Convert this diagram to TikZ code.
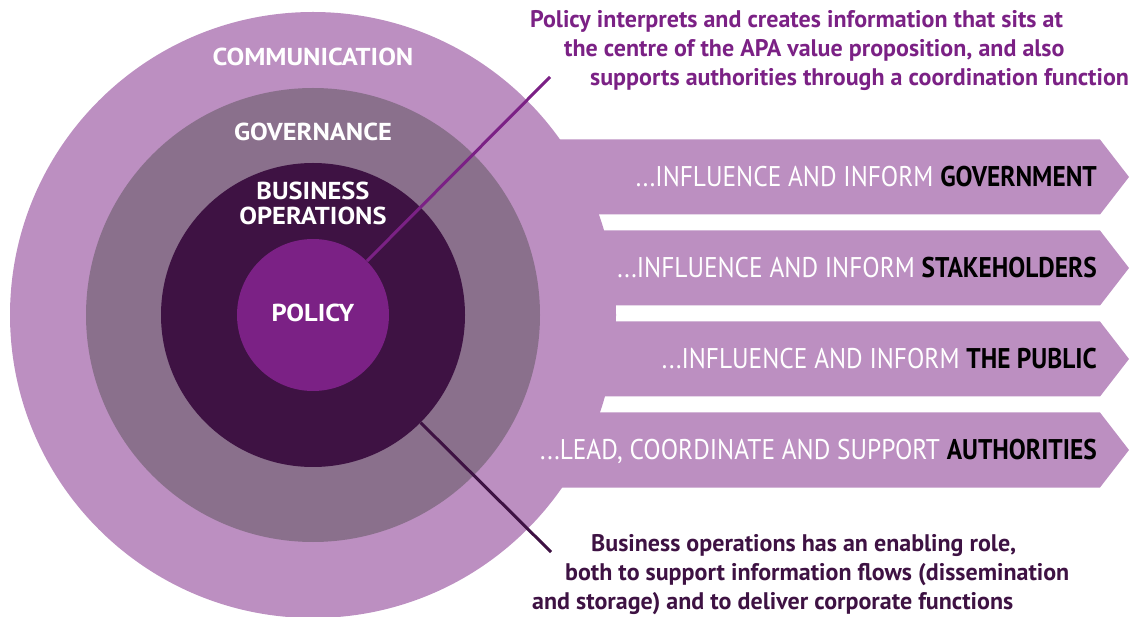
\documentclass[tikz,border=0pt]{standalone}
\usepackage{fontspec}
\setmainfont{PT Sans}
\newfontfamily\narrowfont[FakeStretch=0.89]{PT Sans}
\newfontfamily\wideface[FakeStretch=1.08]{PT Sans}
\usepackage{tikz}
\usetikzlibrary{positioning}
\definecolor{commpurple}{HTML}{BC8FC1}
\definecolor{govmauve}{HTML}{8A708C}
\definecolor{opsplum}{HTML}{3E1243}
\definecolor{policypurple}{HTML}{7B2185}
\newcommand{\bannerdots}{...}

\tikzset{
  ring/.style={circle,inner sep=0,minimum size=#1},
  ringlabel/.style={text=white,font=\wideface\bfseries\fontsize{24.5}{26}\selectfont,
      inner sep=0,anchor=base},
  bannertext/.style={text=white,font=\narrowfont\fontsize{28.5}{30}\selectfont,
      inner sep=0,anchor=base east},
  notetext/.style={font=\bfseries\fontsize{24}{26}\selectfont,
      inner sep=0,anchor=base west},
  leader/.style={line width=3pt}
}

\begin{document}
\begin{tikzpicture}[x=1pt,y=-1pt]
    \useasboundingbox (0,0) rectangle (1141,617);

    % Outer ring, the banners come out of it in the same colour
    \node[ring=606pt,fill=commpurple] (comm) at (313,315) {};
    \foreach \y/\lead/\who in {177/\bannerdots INFLUENCE AND INFORM/GOVERNMENT,
        268/\bannerdots INFLUENCE AND INFORM/STAKEHOLDERS,
        359/\bannerdots INFLUENCE AND INFORM/THE PUBLIC,
        450/{\bannerdots LEAD, COORDINATE AND SUPPORT}/AUTHORITIES}{
      \fill[commpurple] (450,\y-37.5) -- (1100,\y-37.5) -- (1129,\y)
          -- (1100,\y+37.5) -- (450,\y+37.5) -- cycle;
      \node[bannertext] (banner\y) at (1097,\y+10)
          {\lead{} \textcolor{black}{\bfseries\who}};
    }

    % Inner rings
    \node[ring=454pt,fill=govmauve] (gov) at (comm.center) {};
    \node[ring=304pt,fill=opsplum] (ops) at (comm.center) {};
    \node[ring=152pt,fill=policypurple] (policy) at (comm.center) {};

    % Ring names
    \node[ringlabel] (commlabel) at (313,66) {COMMUNICATION};
    \node[ringlabel] (govlabel) at (313,141) {GOVERNANCE};
    \node[ringlabel] (opslabel) at (313,200) {BUSINESS};
    \node[ringlabel] (opslabelb) at (313,225) {OPERATIONS};
    \node[ringlabel] (policylabel) at (313,322) {POLICY};

    % Leaders out to the notes
    \coordinate (topend) at (550,77);
    \coordinate (bottomend) at (551,552);
    \draw[leader,policypurple] (policy.45) -- (topend);
    \draw[leader,opsplum] (ops.-45) -- (bottomend);

    \node[notetext,text=policypurple] (policynote) at (530,28)
        {Policy interprets and creates information that sits at};
    \node[notetext,text=policypurple] (policynoteb) at (564,57)
        {the centre of the APA value proposition, and also};
    \node[notetext,text=policypurple] (policynotec) at (590,86)
        {supports authorities through a coordination function};

    \node[notetext,text=opsplum] (opsnote) at (591,551)
        {Business operations has an enabling role,};
    \node[notetext,text=opsplum] (opsnoteb) at (565,580)
        {both to support information flows (dissemination};
    \node[notetext,text=opsplum] (opsnotec) at (532,609)
        {and storage) and to deliver corporate functions};
\end{tikzpicture}
\end{document}
